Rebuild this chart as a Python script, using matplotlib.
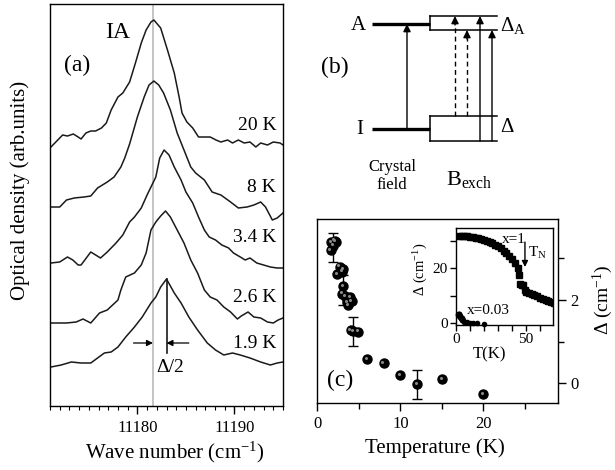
import numpy as np
import matplotlib
matplotlib.use('Agg')
import matplotlib.pyplot as plt
from matplotlib.ticker import MultipleLocator, FixedLocator, NullLocator
from matplotlib.transforms import offset_copy

plt.rcParams['font.family'] = ['Liberation Serif', 'DejaVu Serif']
plt.rcParams['mathtext.fontset'] = 'custom'
plt.rcParams['mathtext.rm'] = 'Liberation Serif'
plt.rcParams['mathtext.it'] = 'Liberation Serif:italic'
plt.rcParams['mathtext.bf'] = 'Liberation Serif:bold'
plt.rcParams['axes.linewidth'] = 1.0

# ---------------- panel (a): spectra ----------------
w20 = [11171.1, 11171.8, 11172.3, 11172.8, 11173.4, 11173.9, 11174.2, 11174.7, 11175.2, 11175.7,
       11176.3, 11176.8, 11177.3, 11178.0, 11178.5, 11179.2, 11179.8, 11180.4, 11180.9, 11181.4,
       11181.7, 11182.4, 11183.1, 11183.8, 11184.3, 11184.6, 11185.1, 11185.7, 11186.3, 11186.9,
       11187.5, 11188.1, 11188.6, 11189.3, 11189.8, 11190.4, 11191.0, 11191.6, 11192.2, 11192.7,
       11193.4, 11194.0, 11194.7, 11195.0]
od20 = [259, 266, 271, 270, 272, 269, 267, 273, 275, 275, 278, 283, 296, 309, 313, 324, 343, 363,
        376, 384, 386, 378, 356, 333, 309, 293, 284, 278, 269, 269, 269, 266, 264, 266, 263, 266,
        263, 264, 259, 263, 261, 264, 263, 261]

w8 = [11171.1, 11172.0, 11172.7, 11173.5, 11174.5, 11175.2, 11175.9, 11176.9, 11177.6, 11178.3,
      11178.7, 11179.2, 11180.0, 11180.7, 11181.2, 11181.7, 11182.2, 11182.7, 11183.4, 11184.1,
      11184.8, 11185.5, 11186.0, 11186.9, 11187.7, 11188.6, 11189.6, 11190.4, 11191.3, 11192.0,
      11192.7, 11193.2, 11193.9, 11194.4, 11195.0]
od8 = [199, 199, 206, 208, 209, 210, 218, 224, 229, 239, 248, 262, 289, 309, 321, 325, 321, 313,
       296, 273, 256, 239, 233, 226, 214, 211, 204, 198, 199, 201, 204, 199, 186, 188, 193]

w34 = [11171.1, 11172.0, 11172.8, 11173.35, 11173.9, 11174.2, 11175.2, 11175.7, 11176.2, 11176.9,
       11177.8, 11178.5, 11179.2, 11179.7, 11180.4, 11181.0, 11181.6, 11181.9, 11182.3, 11182.75,
       11183.26, 11183.8, 11184.5, 11185.0, 11185.7, 11186.3, 11186.9, 11187.4, 11188.05, 11188.7,
       11189.4, 11189.9, 11190.6, 11191.1, 11191.6, 11192.3, 11193.0, 11193.7, 11194.4, 11195.0]
od34 = [143, 144, 149, 146, 141, 141, 154, 151, 148, 154, 163, 171, 184, 189, 198, 211, 223, 229,
        248, 256, 251, 239, 226, 214, 203, 189, 176, 169, 166, 161, 158, 153, 149, 146, 148, 143,
        141, 139, 138, 138]

w26 = [11171.1, 11172.7, 11173.7, 11174.4, 11175.2, 11176.1, 11176.9, 11178.0, 11178.3, 11178.8,
       11179.7, 11180.4, 11180.9, 11181.4, 11181.9, 11182.4, 11182.9, 11183.4, 11184.1, 11184.8,
       11185.5, 11186.2, 11186.9, 11187.5, 11188.2, 11188.9, 11189.6, 11190.3, 11190.7, 11191.4,
       11192.0, 11192.7, 11193.4, 11194.0, 11194.5, 11195.0]
od26 = [83, 83, 84, 87, 83, 93, 96, 106, 116, 129, 133, 141, 153, 176, 184, 190, 195, 189, 176,
        163, 146, 133, 116, 109, 106, 99, 94, 87, 90, 94, 89, 88, 84, 83, 86, 88]

w19 = [11171.1, 11172.15, 11173.2, 11174.2, 11175.2, 11175.9, 11176.6, 11177.3, 11178.0, 11178.8,
       11179.7, 11180.5, 11181.4, 11181.9, 11182.4, 11183.0, 11183.8, 11184.5, 11185.3, 11186.2,
       11187.2, 11188.05, 11188.9, 11189.8, 11190.6, 11191.6, 11192.7, 11193.7, 11194.4, 11195.0]
od19 = [39, 41, 44, 43, 43, 48, 53, 54, 59, 69, 79, 89, 103, 109, 119, 127, 113, 103, 89, 76, 63,
        56, 51, 53, 51, 48, 44, 41, 43, 44]

spectra_w = [w20, w8, w34, w26, w19]
spectra_od = [od20, od8, od34, od26, od19]
temp_labels = ['20 K', '8 K', '3.4 K', '2.6 K', '1.9 K']
label_od = [280, 219, 169, 109, 63]
ref_line = 11181.6          # grey vertical line
peak_19 = 11183.0           # peak of 1.9 K line

# ---------------- panel (c): splitting vs temperature ----------------
T_pts = [1.6, 1.7, 1.9, 2.1, 2.2, 2.35, 2.7, 2.95, 3.1, 3.1, 2.95, 3.35, 3.55, 3.75, 3.95, 4.15,
         4.0, 4.3, 4.9, 6.0, 8.0, 10.0, 12.0, 15.0, 20.0]
D_pts = [3.20, 3.38, 3.30, 3.42, 3.40, 2.62, 2.80, 2.68, 2.74, 2.34, 2.15, 2.10, 1.94, 1.87, 2.06,
         1.98, 1.27, 1.25, 1.24, 0.59, 0.49, 0.19, -0.02, 0.10, -0.25]
T_err = [1.85, 3.13, 4.26, 12.0]
D_err = [3.26, 2.24, 1.25, -0.02]
E_err = [0.34, 0.36, 0.35, 0.35]

# inset: x = 1 compound
T_x1 = [2, 4, 6, 8, 10, 12, 14, 16, 18, 20, 22, 24, 26, 28, 30, 32, 34, 36, 38, 40, 42, 44, 45,
        46, 47, 48, 49, 50, 52, 54, 56, 58, 60, 62, 64, 66, 68, 70]
D_x1 = [31.8, 31.8, 31.8, 31.7, 31.6, 31.4, 31.2, 31.0, 30.7, 30.4, 30.0, 29.6, 29.1, 28.6, 28.0,
        27.3, 26.5, 25.6, 24.6, 23.4, 22.0, 20.0, 17.5, 14.5, 14.0, 13.8, 12.0, 11.5, 11.0, 10.6,
        10.2, 9.8, 9.3, 8.9, 8.5, 8.1, 7.7, 7.4]

W, H = 615, 470
fig = plt.figure(figsize=(W / 100, H / 100), dpi=100)


def rect(l, t, r, b):
    return [l / W, 1 - b / H, (r - l) / W, (b - t) / H]


# ================= panel (a) =================
axa = fig.add_axes(rect(50, 4, 283, 406))
axa.axvline(ref_line, color='#c4c4c4', lw=1.4, zorder=0)
for w, od in zip(spectra_w, spectra_od):
    axa.plot(w, od, color='#1a1a1a', lw=1.1)
axa.set_xlim(11171, 11195)
axa.set_ylim(0, 402)
axa.xaxis.set_major_locator(FixedLocator([11180, 11190]))
axa.xaxis.set_minor_locator(MultipleLocator(1))
axa.yaxis.set_major_locator(NullLocator())
axa.tick_params(axis='x', which='major', direction='out', length=6, width=1, labelsize=12, pad=4)
axa.tick_params(axis='x', which='minor', direction='out', length=3, width=0.8)
axa.set_xlabel('Wave number (cm$^{-1}$)', fontsize=15)
axa.set_ylabel('Optical density (arb.units)', fontsize=15)
axa.xaxis.set_label_coords(0.536, -0.085)
axa.yaxis.set_label_coords(-0.085, 0.537)
for lab, y in zip(temp_labels, label_od):
    axa.text(11194.3, y, lab, fontsize=14, ha='right', va='center')
axa.text(11178.0, 374, 'IA', fontsize=17, ha='center', va='center')
axa.text(11173.8, 341, '(a)', fontsize=17, ha='center', va='center')
# delta/2 marker
axa.plot([peak_19, peak_19], [127, 53], color='#1a1a1a', lw=1.2)
axa.annotate('', xy=(ref_line, 63), xytext=(11179.6, 63),
             arrowprops=dict(arrowstyle='-|>', color='black', lw=0.9, mutation_scale=9,
                             shrinkA=0, shrinkB=0))
axa.annotate('', xy=(peak_19, 63), xytext=(11185.3, 63),
             arrowprops=dict(arrowstyle='-|>', color='black', lw=0.9, mutation_scale=9,
                             shrinkA=0, shrinkB=0))
axa.text(11183.4, 38, 'Δ/2', fontsize=14, ha='center', va='center')

# ================= panel (b): level scheme =================
axb = fig.add_axes(rect(300, 0, 615, 219))
axb.set_xlim(300, 615)
axb.set_ylim(219, 0)
axb.axis('off')
lvl_A, lvl_I = 24, 129
box_top = (16, 30)
box_bot = (116, 141)
x_lvl0, x_box, x_end = 372, 430, 497
axb.plot([x_lvl0, x_box], [lvl_A, lvl_A], color='black', lw=2.4, solid_capstyle='butt')
axb.plot([x_lvl0, x_box], [lvl_I, lvl_I], color='black', lw=2.4, solid_capstyle='butt')
for (y1, y2) in (box_top, box_bot):
    axb.plot([x_box, x_end], [y1, y1], color='black', lw=1.1)
    axb.plot([x_box, x_end], [y2, y2], color='black', lw=1.1)
    axb.plot([x_box, x_box], [y1, y2], color='black', lw=1.1)

ap = dict(arrowstyle='-|>', color='black', lw=1.0, mutation_scale=11, shrinkA=0, shrinkB=0)
axb.annotate('', xy=(407, lvl_A), xytext=(407, lvl_I), arrowprops=ap)
axb.annotate('', xy=(480, box_top[0]), xytext=(480, box_bot[1]), arrowprops=ap)
axb.annotate('', xy=(492, box_top[1]), xytext=(492, box_bot[1]), arrowprops=ap)
for xd, yt in ((455, box_top[0]), (467, box_top[1])):
    axb.plot([xd, xd], [box_bot[0], yt + 8], color='black', lw=1.0, ls=(0, (3.5, 2.5)))
    axb.annotate('', xy=(xd, yt), xytext=(xd, yt + 9), arrowprops=ap)

axb.text(358, 25, 'A', fontsize=15, ha='center', va='center')
axb.text(360, 129, 'I', fontsize=15, ha='center', va='center')
axb.text(335, 67, '(b)', fontsize=17, ha='center', va='center')
axb.text(500, 26, 'Δ$_{\\mathregular{A}}$', fontsize=15, ha='left', va='center')
axb.text(500, 128, 'Δ', fontsize=15, ha='left', va='center')
axb.text(392, 176, 'Crystal\nfield', fontsize=12, ha='center', va='center', linespacing=1.1)
axb.text(446, 180, 'B$_{\\mathregular{exch}}$', fontsize=16, ha='left', va='center')

# ================= panel (c) =================
axc = fig.add_axes(rect(317.3, 219, 558, 403))
axc.errorbar(T_err, D_err, yerr=E_err, fmt='none', ecolor='black', elinewidth=1.0,
             capsize=3.5, capthick=1.0, zorder=2)
axc.plot(T_pts, D_pts, 'o', ms=6.5, color='black', mec='black', zorder=3)
hl = offset_copy(axc.transData, fig=fig, x=-0.9, y=0.9, units='points')
axc.plot(T_pts, D_pts, 'o', ms=2.2, color='#8a8a8a', mec='none', transform=hl, zorder=4)
axc.set_xlim(0, 29)
axc.set_ylim(-0.47, 3.94)
axc.yaxis.tick_right()
axc.yaxis.set_label_position('right')
axc.xaxis.set_major_locator(MultipleLocator(10))
axc.xaxis.set_minor_locator(MultipleLocator(5))
axc.yaxis.set_major_locator(MultipleLocator(2))
axc.yaxis.set_minor_locator(MultipleLocator(1))
axc.tick_params(which='major', direction='out', length=6, width=1, labelsize=12, pad=3)
axc.tick_params(which='minor', direction='out', length=4, width=1)
axc.set_xlabel('Temperature (K)', fontsize=15)
axc.set_ylabel('Δ (cm$^{-1}$)', fontsize=14)
axc.xaxis.set_label_coords(0.489, -0.19)
axc.yaxis.set_label_coords(1.135, 0.56)
axc.text(2.8, 0.08, '(c)', fontsize=17, ha='center', va='center')

# inset
axi = fig.add_axes(rect(456, 228, 552.5, 325))
axi.plot(T_x1, D_x1, 's', ms=4.0, color='black', mec='black')
axi.plot(T_pts, D_pts, 'o', ms=3.0, color='black', clip_on=False)
axi.set_xlim(0, 69)
axi.set_ylim(-0.6, 34.7)
axi.xaxis.set_major_locator(MultipleLocator(50))
axi.xaxis.set_minor_locator(MultipleLocator(10))
axi.yaxis.set_major_locator(MultipleLocator(20))
axi.yaxis.set_minor_locator(MultipleLocator(10))
axi.tick_params(which='major', direction='out', length=4, width=1, labelsize=11, pad=2)
axi.tick_params(which='minor', direction='out', length=4, width=1)
axi.set_xlabel('T(K)', fontsize=12)
axi.set_ylabel('Δ (cm$^{-1}$)', fontsize=10.5)
axi.xaxis.set_label_coords(0.35, -0.22)
axi.yaxis.set_label_coords(-0.27, 0.57)
axi.text(41.0, 30.6, 'x=1', fontsize=11, ha='center', va='center')
axi.text(51.8, 25.6, 'T$_{\\mathregular{N}}$', fontsize=11, ha='left', va='center')
axi.text(22.9, 4.8, 'x=0.03', fontsize=11, ha='center', va='center')
axi.annotate('', xy=(49.3, 20.5), xytext=(49.3, 29.6),
             arrowprops=dict(arrowstyle='-|>', color='black', lw=1.0, mutation_scale=9,
                             shrinkA=0, shrinkB=0))

fig.savefig('out.png', dpi=100)
